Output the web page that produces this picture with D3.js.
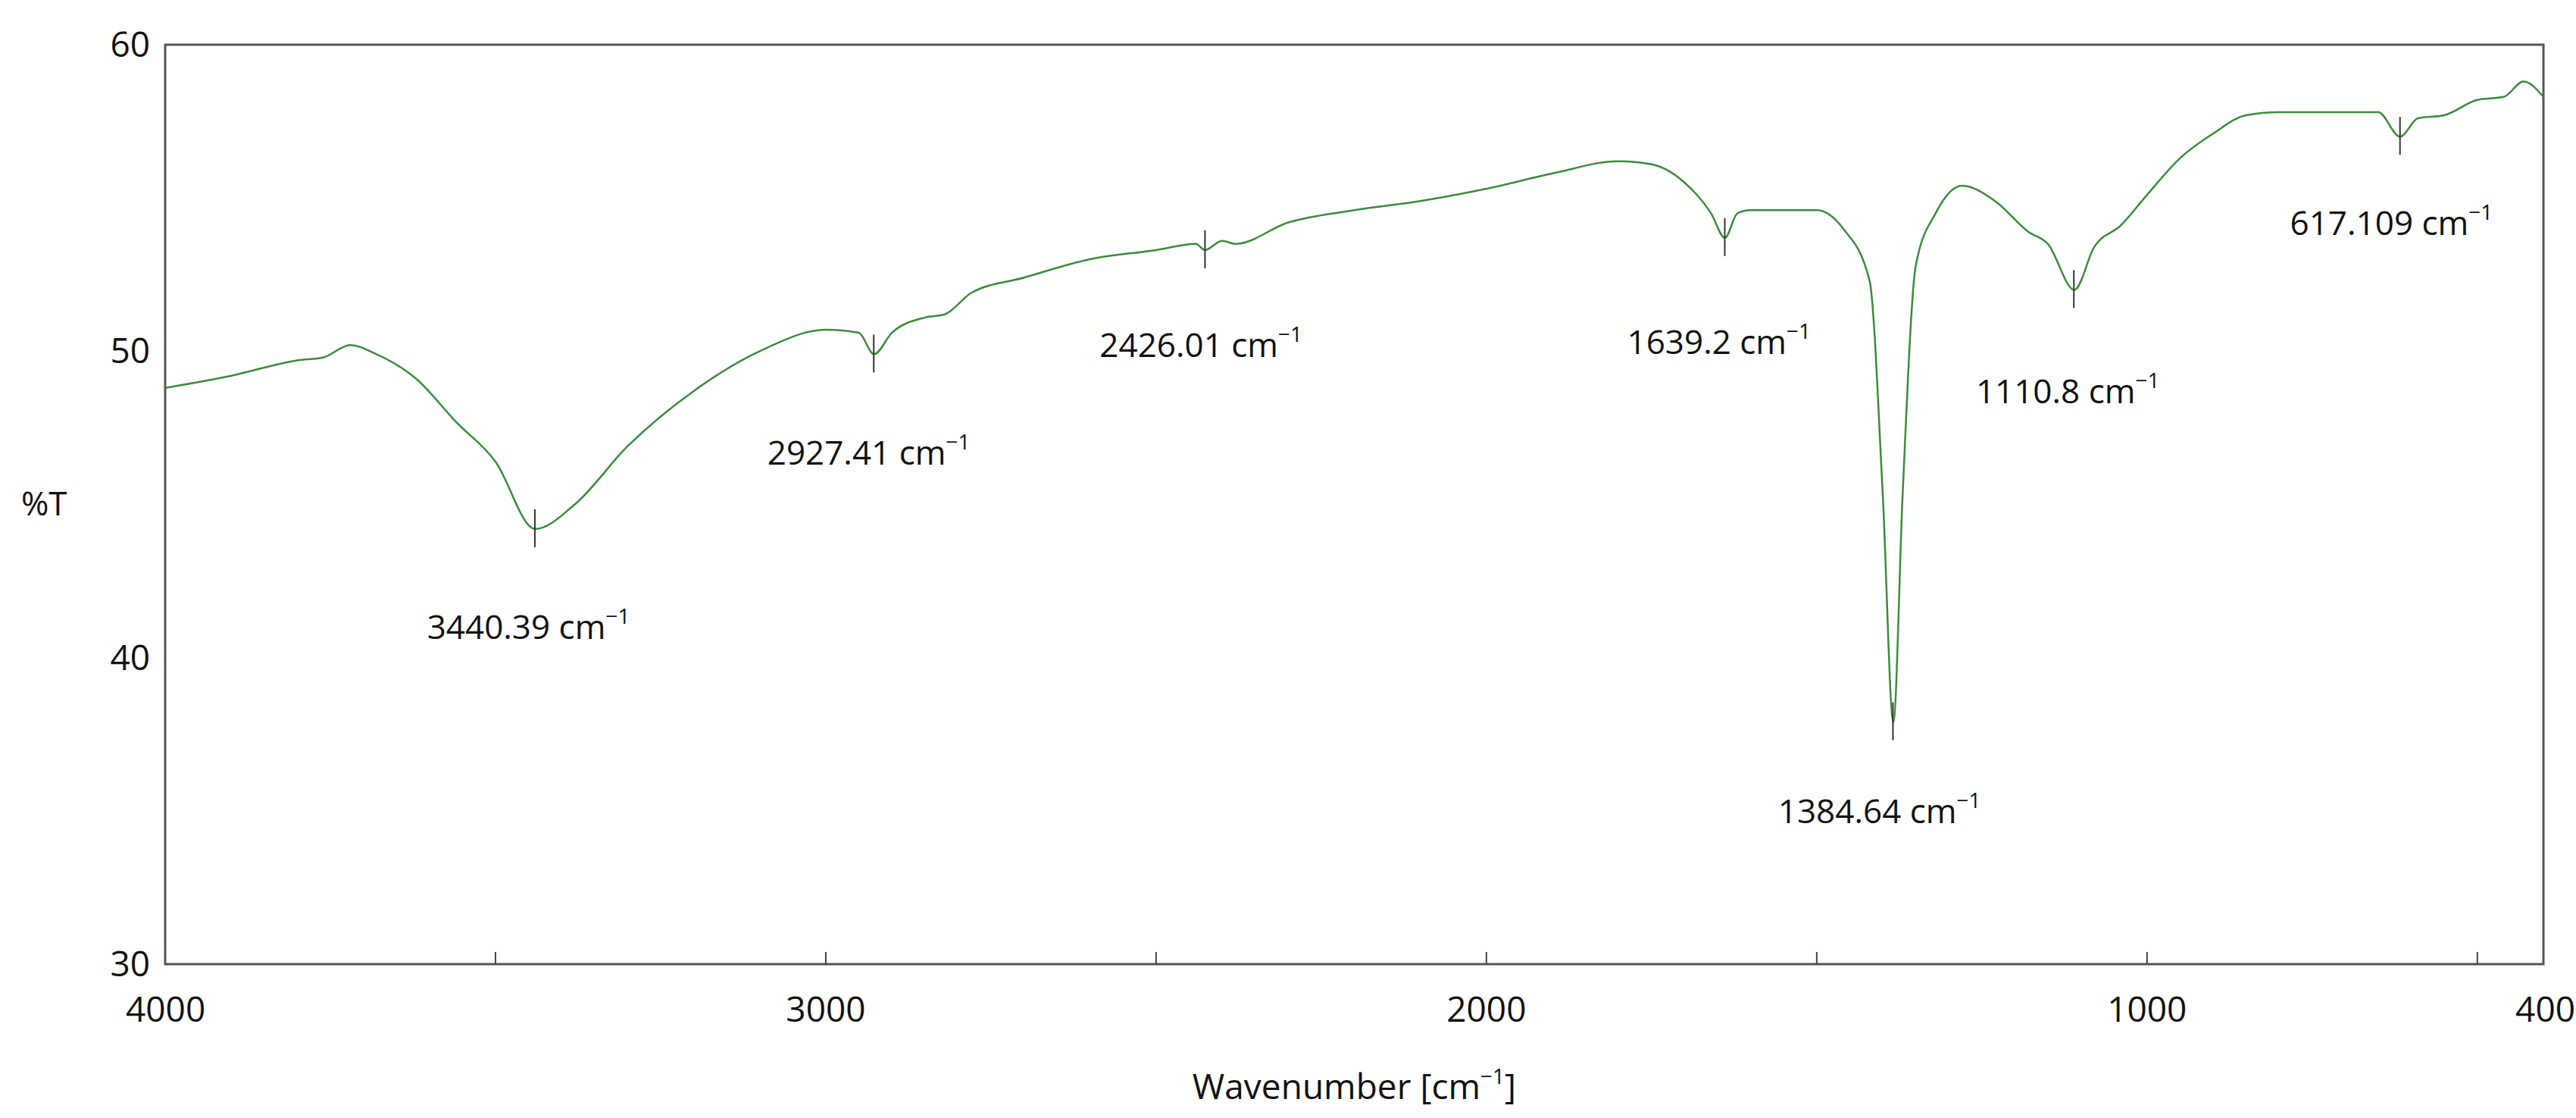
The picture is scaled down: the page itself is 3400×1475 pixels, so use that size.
<!DOCTYPE html>
<html><head><meta charset="utf-8">
<script src="https://cdn.jsdelivr.net/npm/d3@7"></script>
<style>body{margin:0;background:#fff}</style></head>
<body><svg id="c" width="3400" height="1475"></svg>
<script>
const wavenumber=[4000,3900,3800,3760,3720,3680,3620,3560,3500,3440,3380,3300,3200,3100,3000,2950,2927,2900,2850,2820,2780,2700,2600,2500,2440,2426,2400,2380,2300,2200,2100,2000,1900,1800,1750,1700,1660,1639,1620,1600,1550,1500,1460,1420,1400,1384,1370,1350,1320,1280,1230,1180,1150,1110,1080,1040,1000,950,900,850,800,700,650,617,590,550,500,460,430,400];
const transmittance=[48.8,49.2,49.7,49.8,50.2,49.9,49.1,47.7,46.4,44.2,45.0,46.9,48.7,50.0,50.7,50.6,49.9,50.6,51.1,51.2,51.9,52.4,53.0,53.3,53.5,53.3,53.6,53.5,54.2,54.6,54.9,55.3,55.8,56.2,56.1,55.5,54.5,53.7,54.5,54.6,54.6,54.6,54.0,52.3,45.3,37.9,45.3,52.8,54.5,55.4,54.9,53.9,53.5,52.0,53.4,54.1,55.1,56.3,57.1,57.7,57.8,57.8,57.8,57.0,57.6,57.7,58.2,58.3,58.8,58.3];
const peakLabels=["3440.39","2927.41","2426.01","1639.2","1384.64","1110.8","617.109"];
const peakWn=[3440.39,2927.41,2426.01,1639.2,1384.64,1110.8,617.109];
const peakT=[44.2,49.9,53.3,53.7,37.9,52.0,57.0];
const labelWn=[3450,2935,2432,1648,1405,1120,630];
const labelT=[40.6,46.3,49.8,49.9,34.6,48.3,53.8];
const xTicks=[4000,3000,2000,1000,400];
const xMinor=[3500,3000,2500,2000,1500,1000,500];
const yTicks=[30,40,50,60];

const svg=d3.select("#c");
const L=218,R=3357,T=59,B=1272;
const x=d3.scaleLinear().domain([4000,400]).range([L,R]);
const y=d3.scaleLinear().domain([30,60]).range([B,T]);
const font="'Open Sans', sans-serif";
svg.append("rect").attr("x",L).attr("y",T).attr("width",R-L).attr("height",B-T).attr("fill","none").attr("stroke","#555").attr("stroke-width",3);
svg.selectAll(".mt").data(xMinor).join("line").attr("x1",d=>x(d)).attr("x2",d=>x(d)).attr("y1",B).attr("y2",B-16).attr("stroke","#444").attr("stroke-width",2);
svg.selectAll(".xt").data(xTicks).join("text").attr("x",d=>x(d)).attr("y",B+76).attr("text-anchor",(d,i)=>i==0?"start":i==xTicks.length-1?"end":"middle")
  .attr("dx",(d,i)=>i==0?-52:i==xTicks.length-1?42:0)
  .attr("font-family",font).attr("font-size",46).attr("fill","#111").text(d=>d);
svg.selectAll(".yt").data(yTicks).join("text").attr("x",L-20).attr("y",d=>y(d)+16).attr("text-anchor","end")
  .attr("font-family",font).attr("font-size",46).attr("fill","#111").text(d=>d);
svg.append("text").attr("x",28).attr("y",y(45)+14).attr("font-family",font).attr("font-size",44).attr("fill","#111").text("%T");
const xl=svg.append("text").attr("x",(L+R)/2).attr("y",1450).attr("text-anchor","middle").attr("font-family",font).attr("font-size",46).attr("fill","#111");
xl.append("tspan").text("Wavenumber [cm");
xl.append("tspan").attr("font-size",28).attr("dy",-20).text("\u22121");
xl.append("tspan").attr("dy",20).text("]");

const line=d3.line().x((d,i)=>x(wavenumber[i])).y((d,i)=>y(d)).curve(d3.curveMonotoneX);
svg.append("path").datum(transmittance).attr("d",line).attr("fill","none").attr("stroke","#3e8a3e").attr("stroke-width",2.5);

peakWn.forEach((w,i)=>{
  svg.append("line").attr("x1",x(w)).attr("x2",x(w)).attr("y1",y(peakT[i])-26).attr("y2",y(peakT[i])+24).attr("stroke","#333").attr("stroke-width",2);
  const t=svg.append("text").attr("x",x(labelWn[i])).attr("y",y(labelT[i])).attr("text-anchor","middle").attr("font-family",font).attr("font-size",44).attr("fill","#111");
  t.append("tspan").text(peakLabels[i]+" cm");
  t.append("tspan").attr("font-size",28).attr("dy",-20).text("\u22121");
});
</script></body></html>
